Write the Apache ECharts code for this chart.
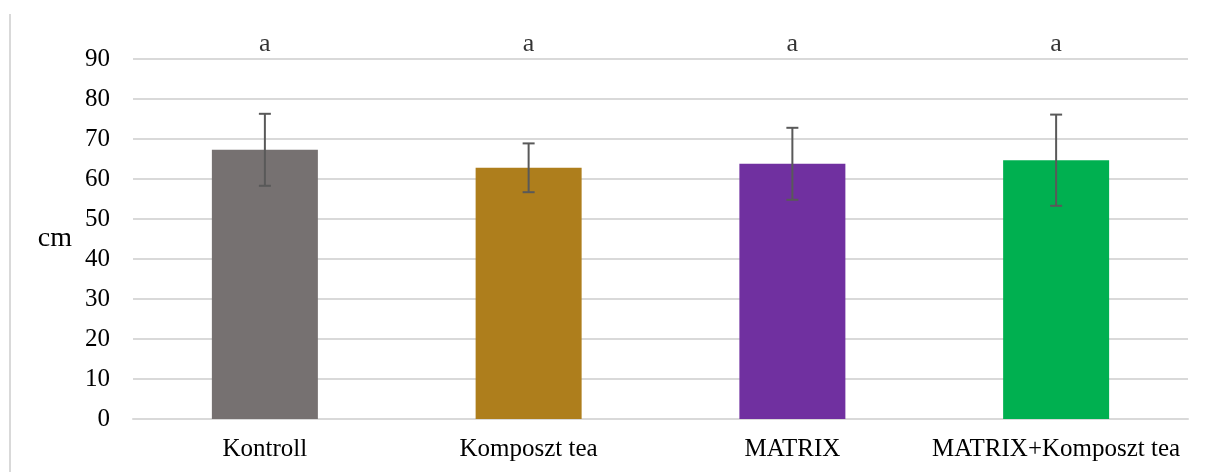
<!DOCTYPE html>
<html>
<head>
<meta charset="utf-8">
<script src="https://cdn.jsdelivr.net/npm/echarts@6/dist/echarts.min.js"></script>
<style>
  html, body { margin: 0; padding: 0; background: #fff; }
  #chart { width: 1216px; height: 472px; }
</style>
</head>
<body>
<div id="chart"></div>
<script>
// adatok
var categories = ['Kontroll', 'Komposzt tea', 'MATRIX', 'MATRIX+Komposzt tea']
var means = [67.3, 62.8, 63.8, 64.7]
var errors = [9.0, 6.1, 9.0, 11.4]
var letters = ['a', 'a', 'a', 'a']
var letterLevel = 93.8
var colors = ['#767171', '#AE7E1C', '#7030A0', '#00B050']

var serif = '"Liberation Serif", "Times New Roman", serif'
var myChart = echarts.init(document.getElementById('chart'))

var option = {
  animation: false,
  textStyle: { fontFamily: serif },
  grid: { left: 133, right: 28, top: 59, bottom: 53 },
  graphic: [
    // bal oldali keret vonal
    { type: 'line', shape: { x1: 10, y1: 14, x2: 10, y2: 472 }, style: { stroke: '#d9d9d9', lineWidth: 2 } }
  ],
  xAxis: {
    type: 'category',
    data: categories,
    axisLine: { lineStyle: { color: '#d9d9d9', width: 2 } },
    axisTick: { show: false },
    axisLabel: { color: '#000', fontSize: 25, fontFamily: serif, margin: 18, interval: 0, hideOverlap: false }
  },
  yAxis: {
    type: 'value',
    min: 0,
    max: 90,
    interval: 10,
    name: 'cm',
    nameLocation: 'middle',
    nameRotate: 0,
    nameGap: 61,
    nameTextStyle: { color: '#000', fontSize: 28, fontFamily: serif, padding: [0, 0, 14, 0] },
    axisLine: { show: false },
    axisTick: { show: false },
    axisLabel: { color: '#000', fontSize: 25, fontFamily: serif, margin: 23 },
    splitLine: { lineStyle: { color: '#d9d9d9', width: 2 } }
  },
  series: [
    {
      type: 'bar',
      barWidth: 106,
      data: means.map(function (v, i) {
        return { value: v, itemStyle: { color: colors[i] } }
      })
    },
    {
      type: 'custom',
      renderItem: function (params, api) {
        var x = api.value(0)
        var hi = api.coord([x, api.value(1)])
        var lo = api.coord([x, api.value(2)])
        var cap = 6
        var st = { stroke: '#595959', lineWidth: 2 }
        return {
          type: 'group',
          children: [
            { type: 'line', shape: { x1: hi[0], y1: hi[1], x2: lo[0], y2: lo[1] }, style: st },
            { type: 'line', shape: { x1: hi[0] - cap, y1: hi[1], x2: hi[0] + cap, y2: hi[1] }, style: st },
            { type: 'line', shape: { x1: lo[0] - cap, y1: lo[1], x2: lo[0] + cap, y2: lo[1] }, style: st }
          ]
        }
      },
      encode: { x: 0, y: [1, 2] },
      data: means.map(function (v, i) {
        return [i, v + errors[i], v - errors[i]]
      }),
      z: 10
    },
    {
      type: 'scatter',
      clip: false,
      symbolSize: 0,
      silent: true,
      label: {
        show: true,
        position: 'inside',
        color: '#000',
        fontSize: 26,
        fontFamily: serif,
        formatter: function (p) { return letters[p.dataIndex] }
      },
      data: categories.map(function (c, i) { return [i, letterLevel] })
    }
  ]
}
myChart.setOption(option)
</script>
</body>
</html>
